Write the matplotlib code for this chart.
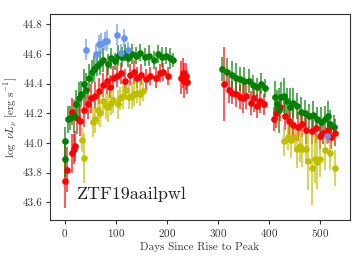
import matplotlib
matplotlib.use("Agg")
import matplotlib.pyplot as plt
import numpy as np

plt.rcParams["font.family"] = "serif"
plt.rcParams["font.serif"] = ["cmr10", "DejaVu Serif"]
plt.rcParams["mathtext.fontset"] = "cm"
plt.rcParams["axes.formatter.use_mathtext"] = True

# day, log nuL_nu, error
red_day = [0, 5, 15, 18, 20, 14, 25, 30, 38, 45, 52, 60, 68, 76, 82, 88, 94, 102, 111, 118,
           127, 135, 142, 150, 160, 168, 178, 186, 193, 202, 228, 231, 234, 237, 240,
           312, 322, 328, 336, 344, 350, 356, 364, 370, 376, 382, 390, 410, 414, 422, 431,
           440, 448, 456, 464, 472, 484, 492, 500, 506, 516, 522, 529]
red_lum = [43.74, 43.82, 43.93, 43.96, 43.98, 44.21, 44.17, 44.15, 44.22, 44.26, 44.30, 44.32,
           44.35, 44.39, 44.42, 44.38, 44.44, 44.45, 44.47, 44.42, 44.46, 44.48, 44.44, 44.46,
           44.43, 44.45, 44.44, 44.47, 44.48, 44.45, 44.44, 44.47, 44.42, 44.45, 44.41,
           44.40, 44.36, 44.34, 44.33, 44.31, 44.30, 44.32, 44.27, 44.30, 44.25, 44.28, 44.26,
           44.16, 44.20, 44.24, 44.18, 44.15, 44.12, 44.11, 44.13, 44.09, 44.08, 44.10, 44.05,
           44.07, 44.09, 44.04, 44.07]
red_err = [0.18, 0.15, 0.13, 0.10, 0.10, 0.09, 0.11, 0.10, 0.11, 0.10, 0.10, 0.09, 0.09, 0.08,
           0.09, 0.08, 0.08, 0.07, 0.07, 0.08, 0.07, 0.08, 0.07, 0.07, 0.07, 0.06, 0.07, 0.06,
           0.06, 0.06, 0.11, 0.10, 0.12, 0.09, 0.08,
           0.25, 0.09, 0.08, 0.09, 0.08, 0.10, 0.09, 0.08, 0.09, 0.08, 0.08, 0.07, 0.08, 0.10,
           0.09, 0.09, 0.10, 0.11, 0.10, 0.09, 0.10, 0.09, 0.10, 0.09, 0.08, 0.09, 0.08, 0.09]

green_day = [0, 0, 6, 10, 18, 22, 28, 32, 38, 42, 48, 54, 58, 64, 70, 76, 84, 90, 98, 104,
             112, 118, 124, 132, 140, 148, 158, 166, 174, 182, 190, 198, 206, 212,
             308, 318, 328, 336, 344, 352, 360, 368, 376, 384, 392, 412, 416, 420, 424, 430,
             436, 442, 448, 454, 462, 470, 478, 486, 494, 502, 510, 516, 520, 527]
green_lum = [44.01, 43.89, 44.16, 44.17, 44.18, 44.26, 44.30, 44.33, 44.40, 44.36, 44.44, 44.48,
             44.50, 44.52, 44.54, 44.56, 44.53, 44.57, 44.55, 44.59, 44.58, 44.61, 44.57, 44.60,
             44.59, 44.61, 44.58, 44.59, 44.56, 44.60, 44.58, 44.59, 44.57, 44.56,
             44.50, 44.48, 44.46, 44.44, 44.43, 44.42, 44.42, 44.39, 44.38, 44.40, 44.37,
             44.31, 44.26, 44.22, 44.31, 44.32, 44.28, 44.24, 44.27, 44.25, 44.21, 44.20, 44.18,
             44.19, 44.16, 44.14, 44.16, 44.18, 44.13, 44.11]
green_err = [0.10, 0.12, 0.09, 0.08, 0.11, 0.10, 0.11, 0.09, 0.10, 0.11, 0.09, 0.08, 0.09, 0.07,
             0.08, 0.08, 0.07, 0.07, 0.06, 0.07, 0.07, 0.06, 0.06, 0.07, 0.06, 0.06, 0.06, 0.07,
             0.06, 0.06, 0.07, 0.06, 0.07, 0.05,
             0.08, 0.09, 0.09, 0.10, 0.08, 0.09, 0.08, 0.07, 0.06, 0.07, 0.06, 0.11, 0.10, 0.15,
             0.10, 0.12, 0.09, 0.13, 0.10, 0.09, 0.10, 0.09, 0.08, 0.09, 0.08, 0.10, 0.09, 0.10,
             0.09, 0.08]

yellow_day = [34, 38, 55, 59, 65, 70, 75, 80, 85, 90, 95, 104, 108, 114, 121, 126, 131, 136,
              141, 147, 154,
              430, 438, 444, 451, 455, 460, 465, 472, 476, 484, 490, 494, 499, 510, 519, 529]
yellow_lum = [44.02, 43.90, 44.14, 44.16, 44.22, 44.20, 44.28, 44.25, 44.24, 44.27, 44.29, 44.26,
              44.30, 44.32, 44.36, 44.31, 44.32, 44.33, 44.34, 44.33, 44.35,
              44.01, 44.04, 44.02, 44.04, 43.96, 43.98, 43.96, 43.96, 43.88, 43.83, 43.89, 43.87,
              43.89, 43.95, 43.93, 43.83]
yellow_err = [0.08, 0.17, 0.10, 0.09, 0.10, 0.09, 0.08, 0.09, 0.10, 0.08, 0.09, 0.10, 0.08, 0.09,
              0.07, 0.08, 0.09, 0.08, 0.07, 0.08, 0.07,
              0.10, 0.09, 0.12, 0.10, 0.13, 0.11, 0.12, 0.10, 0.20, 0.25, 0.16, 0.18, 0.12, 0.13,
              0.11, 0.12]

blue_day = [41, 62, 67, 72, 78, 83, 102, 110, 116, 124, 514]
blue_lum = [44.63, 44.60, 44.67, 44.67, 44.69, 44.69, 44.73, 44.61, 44.71, 44.63, 44.05]
blue_err = [0.07, 0.07, 0.06, 0.07, 0.06, 0.07, 0.07, 0.06, 0.06, 0.05, 0.06]

name = "ZTF19aailpwl"


def main():
    fig, ax = plt.subplots(figsize=(3.64, 2.60), dpi=100)
    bands = [
        (red_day, red_lum, red_err, "red"),
        (green_day, green_lum, green_err, "green"),
        (yellow_day, yellow_lum, yellow_err, "y"),
        (blue_day, blue_lum, blue_err, "cornflowerblue"),
    ]
    for day, lum, err, color in bands:
        _, _, bars = ax.errorbar(day, lum, yerr=err, fmt="o", color=color, ms=3.8,
                                 elinewidth=1.3, capsize=0)
        for b in bars:
            b.set_alpha(0.7)

    ax.set_xlim(-29, 559)
    ax.set_ylim(43.48, 44.87)
    ax.set_xticks([0, 100, 200, 300, 400, 500])
    ax.set_yticks(np.arange(43.6, 44.81, 0.2))
    ax.yaxis.set_major_formatter(matplotlib.ticker.FormatStrFormatter("%.1f"))
    ax.tick_params(labelsize=8, length=3, pad=2, color="#333333", labelcolor="#333333")
    for s in ax.spines.values():
        s.set_color("#333333")
    ax.set_xlabel("Days Since Rise to Peak", fontsize=8, color="#333333", labelpad=2)
    ax.set_ylabel(r"$\log\ \nu L_\nu$ [erg s$^{-1}$]", fontsize=8, color="#333333", labelpad=2)
    ax.text(0.09, 0.1, name, transform=ax.transAxes, fontsize=13, color="#222222")

    fig.subplots_adjust(left=0.137, right=0.962, top=0.946, bottom=0.154)
    fig.savefig("out.png", dpi=100)


if __name__ == "__main__":
    main()
